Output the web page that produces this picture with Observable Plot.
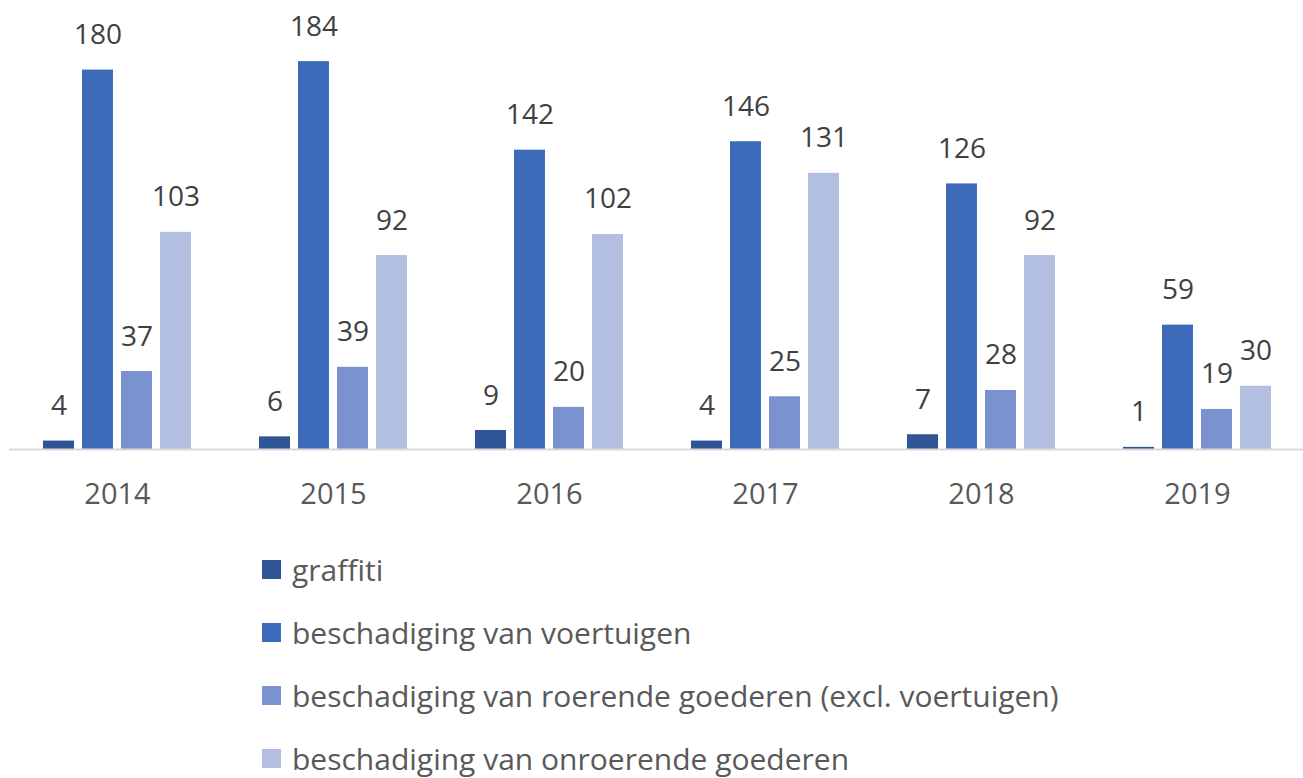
<!DOCTYPE html>
<html>
<head>
<meta charset="utf-8">
<script src="https://cdn.jsdelivr.net/npm/d3@7"></script>
<script src="https://cdn.jsdelivr.net/npm/@observablehq/plot@0.6"></script>
<style>
  body { margin: 0; background: #fff; font-family: "Open Sans", sans-serif; overflow: hidden; }
  #legend { margin-top: 8px; padding-left: 262px; }
  .row { height: 63px; display: flex; align-items: center; font-size: 30px; color: #595959; white-space: nowrap; }
  .sw { width: 19px; height: 19px; margin-right: 11px; flex: none; }
</style>
</head>
<body>
<div id="chart"></div>
<div id="legend"></div>
<script>
const years = ["2014", "2015", "2016", "2017", "2018", "2019"];
const series = [
  "graffiti",
  "beschadiging van voertuigen",
  "beschadiging van roerende goederen (excl. voertuigen)",
  "beschadiging van onroerende goederen"
];
const colors = ["#2F5597", "#3E6BB9", "#7A93CF", "#B3BFE0"];
const graffiti   = [4, 6, 9, 4, 7, 1];
const voertuigen = [180, 184, 142, 146, 126, 59];
const roerende   = [37, 39, 20, 25, 28, 19];
const onroerende = [103, 92, 102, 131, 92, 30];

const valuesBySeries = [graffiti, voertuigen, roerende, onroerende];
const data = [];
years.forEach((y, i) => {
  series.forEach((s, j) => data.push({year: y, series: s, value: valuesBySeries[j][i]}));
});

const chart = Plot.plot({
  width: 1303,
  height: 530,
  marginTop: 0,
  marginBottom: 81,
  marginLeft: 7,
  marginRight: -4,
  style: {fontFamily: "'Open Sans', sans-serif", background: "#fff"},
  fx: {domain: years, padding: 0, label: null, axis: null},
  x: {domain: series, axis: null, paddingInner: 0.215, paddingOuter: 0.84},
  y: {domain: [0, 213], axis: null},
  color: {domain: series, range: colors},
  marks: [
    Plot.barY(data, {fx: "year", x: "series", y: "value", fill: "series"}),
    Plot.ruleY([0], {stroke: "#D9D9D9", strokeWidth: 2}),
    Plot.axisFx({anchor: "bottom", tickSize: 0, tickPadding: 34, fontSize: 29, fill: "#595959", label: null}),
    Plot.text(data, {fx: "year", x: "series", y: "value", text: d => String(d.value),
      lineAnchor: "bottom", dy: -26, fontSize: 28, fill: "#404040"})
  ]
});
document.getElementById("chart").appendChild(chart);

const legend = document.getElementById("legend");
series.forEach((s, j) => {
  const row = document.createElement("div");
  row.className = "row";
  const sw = document.createElement("span");
  sw.className = "sw";
  sw.style.background = colors[j];
  const t = document.createElement("span");
  t.textContent = s;
  row.appendChild(sw);
  row.appendChild(t);
  legend.appendChild(row);
});
</script>
</body>
</html>
